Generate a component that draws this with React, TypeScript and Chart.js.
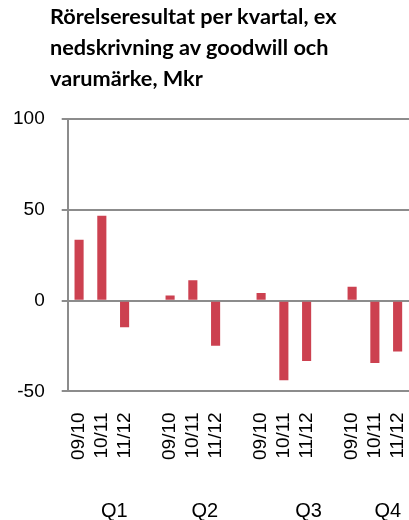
import React, { useEffect, useRef } from "react";
import { Chart, registerables } from "chart.js";

Chart.register(...registerables);

const titleLines = ["Rörelseresultat per kvartal, ex", "nedskrivning av goodwill och", "varumärke, Mkr"];
const categories = ["09/10", "10/11", "11/12", "", "09/10", "10/11", "11/12", "", "09/10", "10/11", "11/12", "", "09/10", "10/11", "11/12"];
const values = [33.5, 46.8, -14.7, null, 2.8, 11.2, -24.9, null, 4.2, -43.8, -33.3, null, 7.7, -34.4, -28.0];
const quarterLabels = ["Q1", "Q2", "Q3", "Q4"];
const quarterPos = [1.55, 5.53, 10.09, 13.57];
const yTicks = [-50, 0, 50, 100];

const quarterPlugin = {
  id: "quarterLabels",
  afterDraw(chart: any) {
    const ctx = chart.ctx;
    const xs = chart.scales.x;
    ctx.save();
    ctx.font = "20px 'Liberation Sans', Arial, sans-serif";
    ctx.fillStyle = "#000";
    ctx.textAlign = "center";
    ctx.textBaseline = "alphabetic";
    quarterLabels.forEach((q, i) => {
      ctx.fillText(q, xs.getPixelForValue(quarterPos[i]), 517);
    });
    ctx.restore();
  },
};

export default function App() {
  const ref = useRef<HTMLCanvasElement>(null);
  useEffect(() => {
    if (!ref.current) return;
    const chart = new Chart(ref.current, {
      type: "bar",
      data: {
        labels: categories,
        datasets: [
          {
            data: values as any,
            backgroundColor: "#cc4150",
            borderWidth: 0,
            categoryPercentage: 1,
            barPercentage: 0.4,
          },
        ],
      },
      options: {
        responsive: false,
        animation: false,
        layout: { padding: { left: -4, top: 119, right: 0, bottom: 47 } },
        plugins: { legend: { display: false }, tooltip: { enabled: false }, title: { display: false } },
        scales: {
          x: {
            afterFit: (scale: any) => {
              scale.paddingRight = 0;
              scale.paddingLeft = 0;
            },
            grid: { display: false },
            border: { display: false },
            ticks: {
              autoSkip: false,
              maxRotation: 90,
              minRotation: 90,
              padding: 13,
              color: "#000",
              font: { family: "'Liberation Sans', Arial, sans-serif", size: 19 },
            },
          },
          y: {
            min: -50,
            max: 100,
            afterBuildTicks: (axis: any) => {
              axis.ticks = yTicks.map((v) => ({ value: v }));
            },
            grid: { color: "#8c8c8c", lineWidth: 2, tickLength: 6, drawTicks: true },
            border: { display: true, color: "#8c8c8c", width: 2 },
            ticks: {
              padding: 17,
              color: "#000",
              font: { family: "'Liberation Sans', Arial, sans-serif", size: 19 },
            },
          },
        },
      },
      plugins: [quarterPlugin],
    });
    return () => chart.destroy();
  }, []);

  return (
    <div style={{ position: "absolute", left: 0, top: 0, width: 409, height: 520, background: "#fff" }}>
      <canvas ref={ref} width={409} height={520} style={{ position: "absolute", left: 0, top: 0 }} />
      <div
        style={{
          position: "absolute",
          left: 50,
          top: 1,
          fontFamily: "Lato, 'Open Sans', sans-serif",
          fontWeight: 700,
          fontSize: 21.7,
          lineHeight: "31px",
          color: "#000",
          whiteSpace: "nowrap",
        }}
      >
        {titleLines.map((l, i) => (
          <div key={i}>{l}</div>
        ))}
      </div>
    </div>
  );
}
